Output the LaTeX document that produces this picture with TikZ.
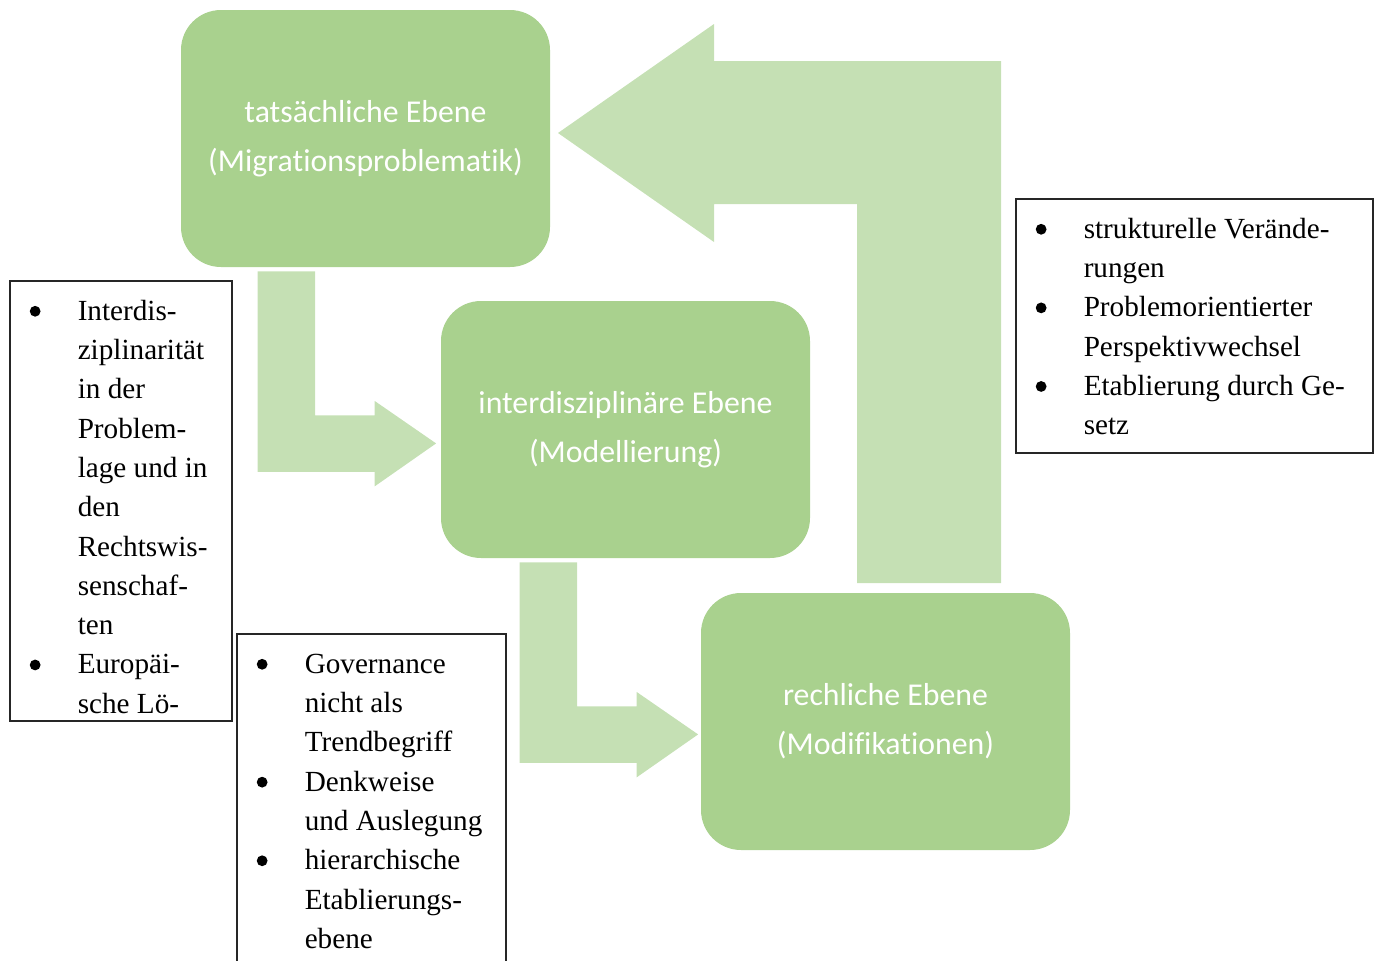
\documentclass[tikz,border=0pt]{standalone}
\usepackage{fontspec}
\setmainfont{Liberation Serif}
\newfontfamily\calibri[Ligatures=NoCommon]{Carlito}

\definecolor{boxgreen}{HTML}{A9D18E}
\definecolor{arrowgreen}{HTML}{C5E0B4}

\tikzset{
	level/.style={rounded corners=20pt, fill=boxgreen, minimum width=184.5pt, minimum height=128.5pt,
		text=white, align=center, font=\calibri\fontsize{15.9}{24.5}\selectfont},
	listbox/.style={draw=black!85, line width=0.75pt, inner sep=0pt, anchor=north west,
		font=\fontsize{14.6}{19.65}\selectfont},
	bentarrow/.pic={
		\fill[arrowgreen] (0,0) -- (57.5,0) -- (57.5,144) -- (117,144) -- (117,129.5)
			-- (178.5,172) -- (117,215) -- (117,200.5) -- (0,200.5) -- cycle;
	}
}

% round bullet and bullet list inside a framed box
\newcommand{\blt}{\tikz[baseline=-4.5pt]\fill (2.7pt,0) circle (2.7pt);}
\newcommand{\bulletbox}[3]{\parbox[c][#2][t]{#1}{\vspace*{6pt}\hspace*{10pt}%
	\begin{tabular}[t]{@{}p{24pt}@{}l@{}}#3\end{tabular}}}

\begin{document}
\begin{tikzpicture}[x=0.5pt, y=-0.5pt]
	\useasboundingbox (0,0) rectangle (1378,960);
	\clip (0,0) rectangle (1378,960);

	% levels
	\node[level] (tats) at (365.5,138.5) {tatsächliche Ebene\\(Migrationsproblematik)};
	\node[level] (inter) at (625.5,429.5) {interdisziplinäre Ebene\\(Modellierung)};
	\node[level] (recht) at (885.5,721.5) {rechliche Ebene\\(Modifikationen)};

	% arrows down the steps
	\path (tats.south west) ++(77,4) pic {bentarrow};
	\path (inter.south west) ++(79,4) pic {bentarrow};

	% way back up
	\fill[arrowgreen] (857,583) -- (857,204) -- (714,204) -- (714,242) -- (558,133)
		-- (714,24) -- (714,61) -- (1001,61) -- (1001,583) -- cycle;

	% notes
	\node[listbox] (probnotes) at (9,280) {\bulletbox{111pt}{220pt}{%
		\blt & Interdis-\\
		& ziplinarität\\
		& in der\\
		& Problem-\\
		& lage und in\\
		& den\\
		& Rechtswis-\\
		& senschaf-\\
		& ten\\
		\blt & Europäi-\\
		& sche Lö-}};
	\node[listbox] (govnotes) at (236,633) {\bulletbox{134.5pt}{175pt}{%
		\blt & Governance\\
		& nicht als\\
		& Trendbegriff\\
		\blt & Denkweise\\
		& und Auslegung\\
		\blt & hierarchische\\
		& Etablierungs-\\
		& ebene}};
	\node[listbox] (rechtnotes) at (1015,198) {\bulletbox{178.5pt}{127pt}{%
		\blt & strukturelle Verände-\\
		& rungen\\
		\blt & Problemorientierter\\
		& Perspektivwechsel\\
		\blt & Etablierung durch Ge-\\
		& setz}};
\end{tikzpicture}
\end{document}
